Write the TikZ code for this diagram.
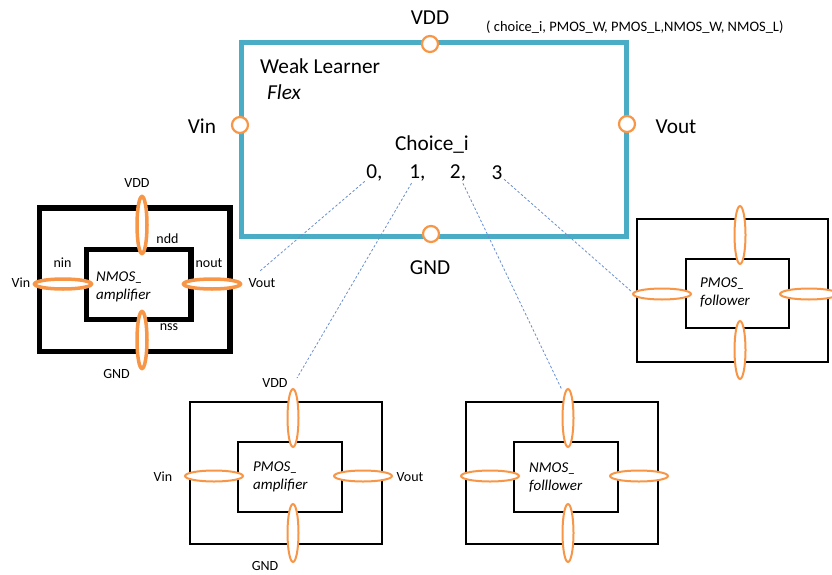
\documentclass[tikz,border=0pt]{standalone}
\usepackage{fontspec}
\setmainfont{Carlito}
\usetikzlibrary{shapes.geometric}
\definecolor{blu}{HTML}{4BACC6}
\definecolor{orng}{HTML}{F79646}
\definecolor{dashblue}{HTML}{6A8FCB}
\tikzset{
  big/.style={font=\fontsize{21.3}{24}\selectfont, inner sep=0},
  sml/.style={font=\fontsize{14}{16}\selectfont, inner sep=0},
  ital/.style={font=\fontsize{15}{18}\selectfont\itshape, inner sep=0, align=left, anchor=west},
  port/.style={circle, draw=orng, fill=white, line width=2.2pt, minimum size=16, inner sep=0},
  pinV/.style={ellipse, draw=orng, fill=white, line width=2pt, minimum width=11, minimum height=58, inner sep=0},
  pinH/.style={ellipse, draw=orng, fill=white, line width=2pt, minimum width=58, minimum height=11, inner sep=0},
  thickpinV/.style={pinV, line width=3.5pt, minimum width=10, minimum height=57},
  thickpinH/.style={pinH, line width=3.5pt, minimum width=57, minimum height=10},
  boxo/.style={rectangle, draw=black, line width=2pt, inner sep=0},
  choice/.style={draw=dashblue, dashed, line width=0.8pt, dash pattern=on 2.5pt off 2pt, shorten <=2pt},
}
\begin{document}
\begin{tikzpicture}[x=1pt,y=-1pt]
\useasboundingbox (0,0) rectangle (832,575);
% main weak learner box
\node[rectangle, draw=blu, line width=5pt, minimum width=385, minimum height=193, inner sep=0] (wl) at (433.5,139.5) {};
\node[port] (pvdd) at (430,44) {};
\node[port] (pgnd) at (431,234) {};
\node[port] (pvin) at (240,125) {};
\node[port] (pvout) at (627,124) {};
\node[big] (tvdd) at (430,18) {VDD};
\node[big] (tgnd) at (430,268) {GND};
\node[big] (tvin) at (202,126) {Vin};
\node[big] (tvout) at (676,127) {Vout};
\node[big, anchor=west] (twl) at (260,66) {Weak Learner};
\node[big, anchor=west, font=\fontsize{21.3}{24}\selectfont\itshape] (tflex) at (267,92) {Flex};
\node[big] (tch) at (432,145) {Choice\_i};
\node[big] (d0) at (374.5,173) {0,};
\node[big] (d1) at (417.5,173) {1,};
\node[big] (d2) at (458,173) {2,};
\node[big] (d3) at (497,173) {3};
\node[sml, anchor=west, font=\fontsize{14.5}{16}\selectfont] (tparams) at (486,27) {( choice\_i, PMOS\_W, PMOS\_L,NMOS\_W, NMOS\_L)};

% NMOS amplifier (thick)
\node[boxo, line width=5.5pt, minimum width=190.5, minimum height=143.5] (na-out) at (134.75,279.75) {};
\node[boxo, line width=5.5pt, minimum width=104.5, minimum height=70] (na-in) at (138.5,284.7) {};
\node[thickpinV] (na-t) at (142,225) {};
\node[thickpinV] (na-b) at (142,340) {};
\node[thickpinH] (na-l) at (63,284) {};
\node[thickpinH] (na-r) at (212,284) {};
\node[ital] (na-lab) at (96,286.5) {NMOS\_\\amplifier};
\node[sml] (na-vdd) at (137,183) {VDD};
\node[sml] (na-ndd) at (167.5,239) {ndd};
\node[sml] (na-nin) at (62.5,263) {nin};
\node[sml] (na-nout) at (209,263) {nout};
\node[sml] (na-vin) at (21,283) {Vin};
\node[sml] (na-vout) at (262,283) {Vout};
\node[sml] (na-nss) at (169,327) {nss};
\node[sml] (na-gnd) at (116.5,374) {GND};

% PMOS amplifier
\node[boxo, minimum width=192, minimum height=142] (pa-out) at (286,473) {};
\node[boxo, minimum width=104, minimum height=70] (pa-in) at (290,477) {};
\node[pinV] (pa-t) at (293,418) {};
\node[pinV] (pa-b) at (293,533) {};
\node[pinH] (pa-l) at (214,476) {};
\node[pinH] (pa-r) at (363,476) {};
\node[ital] (pa-lab) at (253,477) {PMOS\_\\amplifier};
\node[sml] (pa-vdd) at (275,383) {VDD};
\node[sml] (pa-vin) at (163,477) {Vin};
\node[sml] (pa-vout) at (410,477) {Vout};
\node[sml] (pa-gnd) at (265,566) {GND};

% NMOS follower
\node[boxo, minimum width=192, minimum height=142] (nf-out) at (562,473) {};
\node[boxo, minimum width=104, minimum height=70] (nf-in) at (566,477) {};
\node[pinV] (nf-t) at (568,418) {};
\node[pinV] (nf-b) at (568,533) {};
\node[pinH] (nf-l) at (490,476) {};
\node[pinH] (nf-r) at (639,476) {};
\node[ital] (nf-lab) at (529,478) {NMOS\_\\folllower};

% PMOS follower
\node[boxo, minimum width=191, minimum height=143] (pf-out) at (732.5,290.5) {};
\node[boxo, minimum width=103, minimum height=69] (pf-in) at (737.5,293.5) {};
\node[pinV] (pf-t) at (740,235) {};
\node[pinV] (pf-b) at (740,350) {};
\node[pinH] (pf-l) at (662,294) {};
\node[pinH] (pf-r) at (809,294) {};
\node[ital] (pf-lab) at (700,292.5) {PMOS\_\\follower};

% choice connectors
\coordinate (e0) at (260,271);
\coordinate (e1) at (297,378);
\coordinate (e2) at (562,390);
\coordinate (e3) at (632,292);
\draw[choice] (d0) -- (e0);
\draw[choice] (d1) -- (e1);
\draw[choice] (d2) -- (e2);
\draw[choice] (d3) -- (e3);
\end{tikzpicture}
\end{document}
